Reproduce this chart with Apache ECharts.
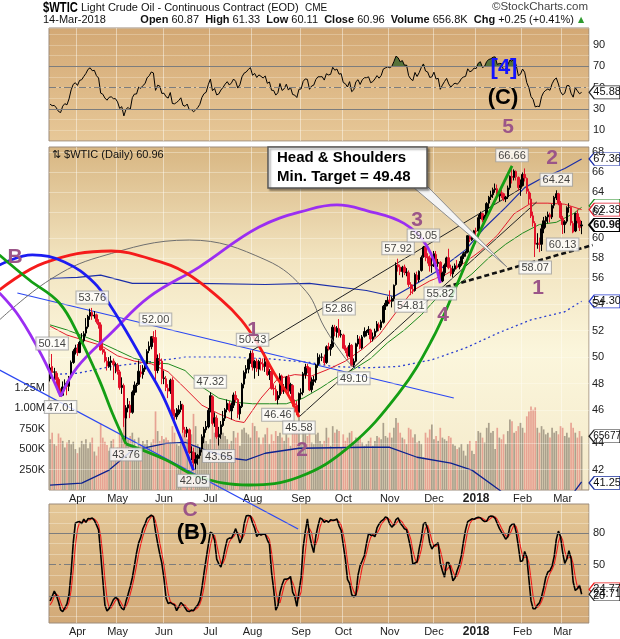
<!DOCTYPE html>
<html>
<head>
<meta charset="utf-8">
<title>$WTIC</title>
<style>
  html, body { margin: 0; padding: 0; background: #fff; }
  #main { width: 620px; height: 639px; }
</style>
<script src="https://cdn.jsdelivr.net/npm/echarts@6/dist/echarts.min.js"></script>
</head>
<body>
<div id="main"></div>
<script>
// trading days shown on the chart, by month
var tradingDays = [
  ['2017-03', [15,16,17,20,21,22,23,24,27,28,29,30,31]],
  ['2017-04', [3,4,5,6,7,10,11,12,13,17,18,19,20,21,24,25,26,27,28]],
  ['2017-05', [1,2,3,4,5,8,9,10,11,12,15,16,17,18,19,22,23,24,25,26,30,31]],
  ['2017-06', [1,2,5,6,7,8,9,12,13,14,15,16,19,20,21,22,23,26,27,28,29,30]],
  ['2017-07', [3,5,6,7,10,11,12,13,14,17,18,19,20,21,24,25,26,27,28,31]],
  ['2017-08', [1,2,3,4,7,8,9,10,11,14,15,16,17,18,21,22,23,24,25,28,29,30,31]],
  ['2017-09', [1,5,6,7,8,11,12,13,14,15,18,19,20,21,22,25,26,27,28,29]],
  ['2017-10', [2,3,4,5,6,9,10,11,12,13,16,17,18,19,20,23,24,25,26,27,30,31]],
  ['2017-11', [1,2,3,6,7,8,9,10,13,14,15,16,17,20,21,22,24,27,28,29,30]],
  ['2017-12', [1,4,5,6,7,8,11,12,13,14,15,18,19,20,21,22,26,27,28,29]],
  ['2018-01', [2,3,4,5,8,9,10,11,12,15,16,17,18,19,22,23,24,25,26,29,30,31]],
  ['2018-02', [1,2,5,6,7,8,9,12,13,14,15,16,20,21,22,23,26,27,28]],
  ['2018-03', [1,2,5,6,7,8,9,12,13,14]]
];

// 20 sessions before the window, only used to warm up RSI / stochastics
var warmHighs  = [53.62,53.60,53.68,53.56,54.33,54.20,54.94,54.40,54.38,54.30,54.28,53.70,53.50,53.74,53.48,53.20,50.65,49.72,48.90,48.33];
var warmLows   = [52.71,52.70,52.93,52.85,53.35,53.30,53.30,53.55,53.55,53.63,53.58,52.30,52.55,52.88,52.70,50.05,48.90,47.70,47.85,47.09];
var warmCloses = [53.20,53.11,53.36,53.40,54.06,53.59,54.45,53.99,54.05,54.01,53.83,52.61,53.33,53.20,53.14,50.28,49.28,48.49,48.40,47.72];

var opens = [
  48.30,49.20,48.80,48.70,48.25,47.35,47.10,47.70,47.90,47.75,48.40,49.50,50.30,
  50.55,50.25,51.05,51.15,51.75,52.25,53.10,53.40,53.10,53.20,52.60,52.40,50.50,50.30,49.60,49.20,49.50,49.60,49.30,
  49.30,48.80,47.65,47.80,45.50,46.20,46.40,45.90,47.30,47.80,47.90,48.80,48.60,49.00,49.40,50.40,50.70,51.40,51.40,48.90,49.70,49.60,
  48.30,48.30,47.60,47.40,48.20,45.70,45.60,45.80,46.10,46.40,44.70,44.50,44.70,43.20,43.20,42.50,42.80,43.00,43.40,44.20,44.70,44.90,
  46.10,47.00,45.20,45.50,44.20,44.40,45.00,45.50,46.10,46.50,46.00,46.40,47.10,46.80,45.80,46.30,47.90,48.70,49.00,49.70,
  50.20,49.10,49.60,49.00,49.50,49.40,49.20,49.50,48.60,48.80,47.60,47.50,46.80,47.10,48.50,47.40,47.60,48.40,47.40,47.80,46.50,46.40,45.90,
  47.20,47.30,48.60,49.20,49.10,47.50,48.10,48.20,49.30,49.90,49.90,49.90,49.50,50.70,50.50,50.70,52.20,51.80,52.10,51.60,
  51.60,50.60,50.40,50.00,50.80,49.30,49.60,50.90,51.30,50.60,51.50,51.80,51.90,52.00,51.30,51.50,51.90,52.40,52.20,52.60,53.90,54.10,
  54.40,54.30,54.50,55.70,57.40,57.20,56.80,57.20,56.70,56.70,55.70,55.30,55.20,56.50,56.10,56.90,58.10,58.90,58.10,58.00,57.30,
  57.40,58.30,57.50,57.60,56.00,56.70,57.40,58.00,57.10,56.60,57.00,57.30,57.20,57.50,58.10,58.40,58.50,59.90,59.60,59.80,
  60.40,60.40,61.60,62.00,61.40,61.70,63.00,63.60,63.80,64.30,64.40,63.70,64.00,63.90,63.40,63.60,64.50,65.60,65.50,66.10,65.50,64.50,
  64.70,65.80,65.40,64.10,63.40,61.80,61.10,59.20,59.30,59.20,60.60,61.30,61.70,61.90,61.70,62.80,63.50,63.90,63.00,
  61.60,61.00,61.30,62.60,62.60,61.10,60.40,62.00,61.40,60.87
];
var highs = [
  49.40,50.14,49.10,48.85,48.40,47.60,48.10,48.25,48.10,48.50,49.65,50.50,50.85,
  50.90,51.15,51.75,51.90,52.94,53.20,53.70,53.76,53.50,53.30,52.85,52.60,51.10,50.50,49.90,49.90,50.00,49.80,49.50,
  49.45,48.95,48.40,47.95,46.40,46.90,46.70,47.45,48.10,48.00,49.65,49.30,49.30,49.60,50.50,51.10,51.50,51.90,52.00,50.10,50.20,49.80,
  48.90,48.50,47.90,48.30,48.40,46.10,46.20,46.40,46.70,46.50,44.90,44.90,44.80,43.60,43.50,43.20,43.10,43.50,44.40,44.90,45.30,46.20,
  47.32,47.10,45.90,45.70,44.90,45.30,46.00,46.20,46.80,46.70,46.60,47.30,47.40,46.90,46.50,48.00,48.90,49.30,49.80,50.40,
  50.43,49.70,49.80,49.70,49.80,49.80,50.20,49.70,49.00,48.90,47.90,47.80,47.40,48.70,48.60,47.90,48.50,48.60,48.00,47.90,46.80,46.70,47.30,
  47.60,48.80,49.40,49.40,49.10,48.40,48.50,49.40,50.20,50.10,50.20,50.10,50.80,51.00,50.90,52.40,52.40,52.30,52.86,52.00,
  51.70,50.80,50.70,51.00,50.90,49.80,51.00,51.60,51.50,51.60,52.20,52.00,52.30,52.10,51.80,52.10,52.70,52.60,52.80,54.00,54.40,54.70,
  55.20,54.70,55.70,57.60,57.92,57.40,57.30,57.40,57.10,56.90,55.90,55.70,56.70,56.80,56.90,58.20,59.05,59.00,58.40,58.20,58.00,
  58.60,58.60,57.90,57.70,56.80,57.50,58.10,58.80,57.40,57.30,57.50,57.80,57.70,58.20,58.50,58.60,60.00,60.10,60.00,60.50,
  60.70,61.90,62.20,62.10,61.90,63.10,63.70,64.20,64.50,64.90,64.80,64.20,64.30,64.00,63.70,64.70,65.70,66.66,66.30,66.20,65.60,65.30,
  66.00,66.40,65.50,64.40,64.00,62.20,61.30,60.20,59.80,61.00,61.70,61.80,62.20,62.10,62.90,63.70,64.24,64.00,63.20,
  61.80,61.40,62.70,63.00,62.70,61.30,62.10,62.40,61.70,61.33
];
var lows = [
  48.10,48.60,48.20,47.80,47.30,47.01,47.05,47.40,47.10,47.40,48.30,49.40,50.10,
  50.00,50.20,50.90,51.00,51.50,52.10,52.80,52.80,52.90,52.50,52.10,50.40,50.10,49.50,48.90,49.10,48.90,48.20,48.70,
  48.60,47.50,47.20,44.90,43.76,45.90,45.50,45.80,47.10,47.30,47.85,48.40,48.30,48.80,49.30,50.20,50.50,51.00,48.20,48.70,49.30,47.90,
  47.90,47.40,46.90,47.20,45.60,45.20,45.40,45.70,45.90,44.50,44.20,44.20,43.10,42.70,42.05,42.10,42.40,42.80,43.20,43.80,44.50,44.80,
  45.90,45.00,44.90,44.10,43.65,44.10,44.90,45.30,45.90,45.90,45.40,46.20,46.60,45.50,45.40,46.20,47.60,48.30,48.70,49.40,
  48.90,48.30,48.80,48.50,48.90,48.90,48.80,48.50,48.20,47.50,47.10,46.70,46.46,46.90,47.20,47.20,47.50,47.20,47.20,46.30,45.90,45.70,45.58,
  46.80,47.10,48.30,48.70,47.40,47.30,47.80,48.00,49.10,49.40,49.60,49.30,49.40,50.40,50.00,50.60,51.50,51.40,51.40,51.40,
  50.50,50.20,49.80,49.90,49.20,49.10,49.50,50.70,50.50,50.50,51.40,51.50,51.60,51.00,51.10,51.40,51.80,51.90,52.00,52.50,53.60,53.90,
  54.10,53.80,54.30,55.60,56.80,56.50,56.30,56.50,56.40,55.50,54.81,54.90,55.10,55.80,55.90,56.80,58.00,57.70,57.50,56.80,56.70,
  57.20,57.40,57.20,55.82,55.90,56.40,57.20,57.00,56.40,56.30,56.80,57.00,57.00,57.30,57.90,58.10,58.40,59.40,59.50,59.70,
  59.90,60.20,61.50,61.20,61.10,61.60,62.50,63.30,63.50,64.00,63.30,63.20,63.50,63.20,63.10,63.40,64.30,64.90,65.20,65.20,64.20,63.70,
  64.60,65.10,63.90,62.90,61.60,60.80,58.07,58.80,58.50,58.60,60.20,60.70,61.10,61.20,61.50,62.50,63.30,62.80,61.50,
  60.13,60.20,61.10,62.10,60.90,60.20,60.30,61.10,60.40,60.11
];
var closes = [
  49.10,48.75,48.78,48.22,47.34,47.04,47.70,47.97,47.73,48.37,49.51,50.35,50.60,
  50.24,51.03,51.15,51.70,52.24,53.08,53.40,53.11,53.18,52.65,52.41,50.44,50.27,49.62,49.23,49.56,49.62,49.33,49.33,
  48.84,47.66,47.82,45.52,46.22,46.43,45.88,47.33,47.83,47.84,48.85,48.66,49.07,49.35,50.33,50.73,51.47,51.36,48.90,49.80,49.66,48.32,
  48.36,47.66,47.40,48.19,45.72,45.64,45.83,46.08,46.46,44.73,44.46,44.74,43.20,43.23,42.53,42.74,43.01,43.38,44.24,44.74,44.93,46.04,
  47.07,45.13,45.52,44.23,44.40,45.04,45.49,46.08,46.54,46.02,46.40,47.12,46.79,45.77,46.34,47.89,48.75,49.04,49.71,50.17,
  49.16,49.59,49.03,49.58,49.39,49.17,49.56,48.59,48.82,47.59,47.55,46.78,47.09,48.51,47.37,47.64,48.41,47.43,47.87,46.57,46.44,45.96,47.23,
  47.29,48.66,49.16,49.09,47.48,48.07,48.23,49.30,49.89,49.89,49.91,49.48,50.69,50.55,50.66,52.22,51.88,52.14,51.56,51.67,
  50.58,50.42,49.98,50.79,49.29,49.58,50.92,51.30,50.60,51.45,51.87,51.88,52.04,51.29,51.47,51.90,52.47,52.18,52.64,53.90,54.15,54.38,
  54.30,54.54,55.64,57.35,57.20,56.81,57.17,56.74,56.76,55.70,55.33,55.14,56.55,56.09,56.83,58.02,58.95,58.11,57.99,57.30,57.40,
  58.36,57.47,57.62,55.96,56.69,57.36,57.99,57.14,56.60,57.04,57.30,57.16,57.46,58.09,58.36,58.47,59.97,59.64,59.84,60.42,
  60.37,61.63,62.01,61.44,61.73,62.96,63.57,63.80,64.30,64.40,63.73,63.97,63.95,63.37,63.57,64.47,65.61,65.51,66.14,65.56,64.50,64.73,
  65.80,65.45,64.15,63.39,61.79,61.15,59.20,59.29,59.19,60.60,61.34,61.68,61.90,61.68,62.77,63.55,63.91,63.01,61.64,
  60.99,61.25,62.57,62.60,61.15,60.30,62.04,61.36,60.71,60.96
];
// volume in thousands
var volumes = [
  620,700,560,540,690,640,600,520,580,610,560,590,500,
  450,520,600,560,620,510,580,640,470,420,530,810,640,590,550,480,600,620,470,
  520,700,640,930,900,620,660,700,620,520,640,560,600,560,610,520,580,620,960,720,600,660,
  620,640,610,580,780,700,560,540,600,760,700,620,720,680,930,780,560,500,640,690,600,560,
  620,800,700,760,620,680,700,660,620,560,600,720,640,700,540,740,760,700,680,640,
  820,780,720,640,560,640,680,760,560,680,600,720,660,700,640,600,680,640,540,700,720,740,900,
  560,740,700,660,720,580,560,680,700,600,560,600,760,640,540,780,700,740,720,520,
  680,600,640,700,720,560,640,620,660,580,540,560,600,640,540,600,660,640,620,820,660,640,
  700,640,760,880,820,700,640,620,560,760,740,640,680,580,600,560,400,700,640,740,800,
  620,660,600,760,640,620,600,660,640,560,540,500,520,560,480,420,560,600,480,440,
  600,720,700,640,580,760,820,700,720,500,760,640,620,680,560,720,860,840,700,720,780,820,
  760,700,900,960,1020,980,1010,760,700,780,740,680,700,640,760,700,720,680,780,
  760,660,700,640,820,760,700,640,720,657
];

// overlays: [session index, price]
var sma20 = [[0,52.3],[8,51.6],[16,51.2],[24,50.8],[32,50.0],[40,49.6],[48,49.4],[56,48.8],[64,47.6],[72,46.4],[80,45.8],[88,45.3],[92,45.2],[100,46.9],[108,48.3],[116,48.6],[124,48.5],[132,49.0],[140,49.6],[148,50.5],[156,51.6],[164,53.4],[172,55.2],[180,56.0],[188,56.6],[196,57.5],[204,58.6],[212,60.0],[220,62.0],[228,63.0],[236,63.0],[244,62.9],[252,62.39]];
var sma50 = [[0,52.4],[8,52.0],[16,51.5],[24,51.0],[32,50.4],[40,49.8],[48,49.5],[56,49.4],[64,48.9],[72,47.7],[80,46.9],[88,46.6],[96,46.5],[104,46.5],[112,46.5],[120,46.9],[128,47.6],[136,48.4],[144,49.0],[152,49.8],[160,51.0],[168,52.0],[176,53.2],[184,54.7],[192,55.5],[200,56.6],[208,58.0],[216,59.2],[224,60.2],[232,61.0],[240,61.2],[248,62.0],[252,62.6]];
var navyAvg = [[0,56.2],[13,56.3],[24,56.5],[39,55.8],[70,55.8],[102,55.7],[123,55.8],[150,55.2],[163,54.7],[172,55.6],[184,56.9],[197,58.7],[206,60.7],[216,62.6],[225,64.5],[232,65.3],[244,66.4],[252,67.36]];
var sma200 = [[0,48.6],[13,48.7],[29,49.2],[45,49.5],[64,49.9],[86,49.9],[102,49.8],[123,49.5],[134,49.2],[150,49.1],[165,49.2],[181,49.7],[197,50.6],[213,51.8],[228,52.8],[244,53.45],[252,54.30]];
var volumeAvg = [[0,60],[15,85],[28,243],[39,485],[55,570],[64,583],[74,485],[86,388],[93,364],[102,449],[118,510],[150,522],[161,522],[174,400],[190,328],[200,243],[213,0],[220,-150],[240,-150],[248,-40],[252,100]];

// hand-drawn cycle arcs and trend lines: [session index, price]
var arcGreenLeft = [[-24,58.25],[-9.8,56.08],[4.4,54.16],[13.9,51.44],[23.3,48.21],[29.5,45.86],[36,43.76]];
var arcGreenBowl = [[36,43.76],[55,42.71],[70.7,41.62],[94.3,41.12],[118,41.62],[141.7,43.56],[165.4,47.27],[181,51.21],[192.4,55.49],[201.9,59.58],[209.4,62.64],[219,66.66]];
var arcBlue = [[-24,57.37],[-8.4,58.25],[6.8,57.63],[21,55.83],[29,53.84],[36.6,51.76],[44.7,49.47],[52.8,47.27],[60.4,44.69],[68,42.05]];
var arcRed = [[-24,55.24],[-2.7,57.55],[29,58.6],[49.4,57.8],[64.5,56.68],[81.2,54.42],[90.6,52.79],[98.2,50.98],[106.2,48.72],[114.3,46.77],[118,45.58]];
var arcPurpleLeft = [[-24,54.99],[-14.5,53.03],[-3.6,49.92],[5,47.01]];
var arcPurple = [[5,47.01],[13,49.17],[29,51.76],[47,54.66],[70.7,57.19],[99.1,60.76],[122.8,62.4],[136,62.83],[150,62.3],[167.8,61.1],[178.9,58.96],[185,55.82]];
var arcGray = [[-24,52.79],[-0.3,56.08],[23.3,58.07],[66,59.58],[102.4,57.8],[121.5,55.1],[130,52.23],[139.5,49.92],[144,49.10]];
var trendBlueUpper = [[-15.5,54.99],[191.4,46.91]];
var trendBlueLower = [[-24,48.94],[117.6,38.47]];
var channelUpper = [[96,50.43],[223.7,64.46]];
var channelLower = [[118,45.58],[230.7,63.11]];
var neckline = [[184,55.3],[257.2,59.13]];

// swing labels
var pivotDays   = [1,5,20,36,50,68,76,80,96,108,118,137,144,165,171,177,185,219,230,240,243];
var pivotPrices = [50.14,47.01,53.76,43.76,52.00,42.05,47.32,43.65,50.43,46.46,45.58,52.86,49.10,57.92,54.81,59.05,55.82,66.66,58.07,64.24,60.13];
var pivotSides  = ['top','bottom','top','bottom','top','bottom','top','bottom','top','bottom','bottom','top','bottom','top','bottom','top','bottom','top','bottom','top','bottom'];

var priceTicks = [42,44,46,48,50,52,54,56,58,60,62,64,66,68];
var monthNames = ['Jan','Feb','Mar','Apr','May','Jun','Jul','Aug','Sep','Oct','Nov','Dec'];

// ---------------------------------------------------------------
var dates = [];
tradingDays.forEach(function (m) {
  m[1].forEach(function (d) { dates.push(m[0] + '-' + (d < 10 ? '0' + d : d)); });
});
var categories = dates.concat(['', '', '']);
var last = dates.length - 1;

var monthStart = {};
for (var i = 1; i < dates.length; i++) {
  if (dates[i].slice(0, 7) !== dates[i - 1].slice(0, 7)) monthStart[i] = true;
}
function isMonthStart(index) { return monthStart[index] === true; }

var UP = '#000000', DOWN = '#e3132b';
var candles = [], volBars = [];
for (var i = 0; i < dates.length; i++) {
  var prev = i === 0 ? warmCloses[warmCloses.length - 1] : closes[i - 1];
  var c = closes[i] >= prev ? UP : DOWN;
  candles.push({
    value: [Math.log(opens[i]), Math.log(closes[i]), Math.log(lows[i]), Math.log(highs[i])],
    itemStyle: { color: c, color0: c, borderColor: c, borderColor0: c }
  });
  volBars.push({
    value: volumes[i],
    itemStyle: { color: c === UP ? '#aaa08c' : '#e7a393' }
  });
}

// RSI(14), Wilder smoothing
var allC = warmCloses.concat(closes);
var allH = warmHighs.concat(highs);
var allL = warmLows.concat(lows);
var rsiAll = [], g = 0, l = 0, n = 14;
for (var i = 1; i < allC.length; i++) {
  var ch = allC[i] - allC[i - 1];
  var up = ch > 0 ? ch : 0, dn = ch < 0 ? -ch : 0;
  if (i <= n) {
    g += up; l += dn;
    if (i === n) { g /= n; l /= n; rsiAll[i] = 100 - 100 / (1 + g / l); }
  } else {
    g = (g * (n - 1) + up) / n; l = (l * (n - 1) + dn) / n;
    rsiAll[i] = 100 - 100 / (1 + g / l);
  }
}
var rsi = rsiAll.slice(warmCloses.length);

// slow stochastics (14,3)
var fastK = [], slowK = [], slowD = [];
for (var i = 13; i < allC.length; i++) {
  var hh = -1e9, ll = 1e9;
  for (var j = i - 13; j <= i; j++) { hh = Math.max(hh, allH[j]); ll = Math.min(ll, allL[j]); }
  fastK[i] = (allC[i] - ll) / (hh - ll) * 100;
  if (i >= 15) slowK[i] = (fastK[i] + fastK[i - 1] + fastK[i - 2]) / 3;
  if (i >= 17) slowD[i] = (slowK[i] + slowK[i - 1] + slowK[i - 2]) / 3;
}
var stochK = slowK.slice(warmCloses.length);
var stochD = slowD.slice(warmCloses.length);

// layout of the panels
var PANEL_LEFT = 49, PANEL_W = 540, CHART_W = 620;
var band = PANEL_W / categories.length;
// the drawing layer spans the full width so annotations can run past the panel edge
var drawMin = -0.5 - PANEL_LEFT / band;
var drawMax = -0.5 + (CHART_W - PANEL_LEFT) / band;
var lnMin = Math.log(40.81), lnMax = Math.log(68.59);

function lnPts(arr) { return arr.map(function (d) { return [d[0], Math.log(d[1])]; }); }

function tag(x, y, text, color, bold, size) {
  return {
    coord: [x, y],
    symbol: 'path://M0,6L6,0L36,0L36,12L6,12Z',
    symbolSize: [31, 13],
    symbolOffset: [23, 0],
    itemStyle: { color: '#fff', borderColor: color, borderWidth: bold ? 1.6 : 1 },
    label: {
      show: true, position: 'inside', formatter: text, offset: [2.5, 0],
      color: '#111', fontSize: size || 11, fontWeight: bold ? 'bold' : 'normal',
      fontFamily: 'Liberation Sans'
    }
  };
}

function overlay(name, data, color, width, extra) {
  var s = {
    name: name, type: 'line', xAxisIndex: 3, yAxisIndex: 4,
    data: lnPts(data), symbol: 'none', clip: false, silent: true,
    lineStyle: { color: color, width: width }, z: 3
  };
  for (var k in extra) s[k] = extra[k];
  return s;
}

var MAUVE = '#9b5588';
var FONT = 'Liberation Sans';
var gridLine = 'rgba(255,255,250,0.45)';

var priceLines = priceTicks.map(function (v) {
  return { yAxis: Math.log(v), label: { formatter: String(v) } };
});

var stochLines = [];
for (var v = 0; v <= 100; v += 10) {
  if (v === 20 || v === 50 || v === 80) continue;
  stochLines.push({ yAxis: v, lineStyle: { color: 'rgba(255,255,245,0.3)', type: 'solid', width: 1 }, label: { show: false } });
}
stochLines.push({ yAxis: 80, lineStyle: { color: '#7d7d7d', type: 'solid', width: 1 }, label: { show: true, formatter: '80' } });
stochLines.push({ yAxis: 20, lineStyle: { color: '#7d7d7d', type: 'solid', width: 1 }, label: { show: true, formatter: '20' } });
stochLines.push({ yAxis: 50, lineStyle: { color: '#7d7d7d', type: [7, 3, 2, 3], width: 1 }, label: { show: true, formatter: '50' } });

var pivotData = pivotDays.map(function (d, k) {
  return { value: [d, Math.log(pivotPrices[k])], label: { position: pivotSides[k] } };
});

var chart = echarts.init(document.getElementById('main'));

var xLabel = {
  show: true, interval: isMonthStart, margin: 3, fontSize: 11, color: '#222', fontFamily: FONT,
  formatter: function (value) {
    if (!value) return '';
    var m = +value.slice(5, 7);
    return m === 1 ? '{b|' + value.slice(0, 4) + '}' : monthNames[m - 1];
  },
  rich: { b: { fontWeight: 'bold', fontSize: 12, fontFamily: FONT } }
};
var xSplit = { show: true, interval: isMonthStart, lineStyle: { color: gridLine, width: 1 } };

function wave(x, y, text, color, size) {
  return { type: 'text', x: x, y: y, z: 100, style: {
    text: text, font: 'bold ' + (size || 21) + 'px ' + FONT, fill: color || MAUVE,
    align: 'center', verticalAlign: 'middle' } };
}

var option = {
  animation: false,
  backgroundColor: '#ffffff',
  grid: [
    { left: PANEL_LEFT, width: PANEL_W, top: 28, height: 113, show: true, borderColor: '#9c8b7a', borderWidth: 1,
      backgroundColor: { type: 'linear', x: 0, y: 0, x2: 0, y2: 1, colorStops: [
        { offset: 0, color: '#d3a874' }, { offset: 1, color: '#e7c898' }] } },
    { left: PANEL_LEFT, width: PANEL_W, top: 147, height: 343, show: true, borderColor: '#9c8b7a', borderWidth: 1,
      backgroundColor: { type: 'linear', x: 0, y: 0, x2: 0, y2: 1, colorStops: [
        { offset: 0, color: '#d8b682' }, { offset: 0.33, color: '#f2e4c0' },
        { offset: 0.6, color: '#fbf6dc' }, { offset: 1, color: '#f4e9c9' }] } },
    { left: PANEL_LEFT, width: PANEL_W, top: 504, height: 119, show: true, borderColor: '#9c8b7a', borderWidth: 1,
      backgroundColor: { type: 'linear', x: 0, y: 0, x2: 0, y2: 1, colorStops: [
        { offset: 0, color: '#e4c797' }, { offset: 1, color: '#d2a977' }] } },
    { left: 0, width: CHART_W, top: 147, height: 343, show: false }
  ],
  xAxis: [
    { type: 'category', gridIndex: 0, data: categories, axisLabel: { show: false },
      axisTick: { show: false }, axisLine: { show: false }, splitLine: xSplit },
    { type: 'category', gridIndex: 1, data: categories, axisLabel: xLabel,
      axisTick: { show: false }, axisLine: { show: false }, splitLine: xSplit },
    { type: 'category', gridIndex: 2, data: categories, axisLabel: xLabel,
      axisTick: { show: false }, axisLine: { show: false }, splitLine: xSplit },
    { type: 'value', gridIndex: 3, min: drawMin, max: drawMax, show: false }
  ],
  yAxis: [
    { type: 'value', gridIndex: 0, min: 0, max: 106, interval: 10, position: 'right',
      axisLine: { show: false }, axisTick: { show: false },
      axisLabel: { margin: 4, fontSize: 11, color: '#222', fontFamily: FONT,
        formatter: function (v) { return (v === 10 || v === 30 || v === 50 || v === 70 || v === 90) ? String(v) : ''; } },
      splitLine: { lineStyle: { color: 'rgba(255,255,245,0.25)' } } },
    { type: 'value', gridIndex: 1, min: lnMin, max: lnMax, show: false },
    { type: 'value', gridIndex: 1, min: 0, max: 4190, interval: 250, position: 'left',
      axisLine: { show: false }, axisTick: { show: false }, splitLine: { show: false },
      axisLabel: { margin: 4, fontSize: 11, color: '#222', fontFamily: FONT,
        formatter: function (v) {
          if (v <= 0 || v > 1250) return '';
          return v >= 1000 ? (v / 1000).toFixed(2) + 'M' : v + 'K';
        } } },
    { type: 'value', gridIndex: 2, min: -6, max: 108, show: false },
    { type: 'value', gridIndex: 3, min: lnMin, max: lnMax, show: false },
    { type: 'value', gridIndex: 3, min: 0, max: 4190, show: false }
  ],
  series: [
    // RSI panel
    { type: 'line', xAxisIndex: 0, yAxisIndex: 0, stack: 'rsi', silent: true, symbol: 'none',
      data: rsi.map(function () { return 70; }), lineStyle: { opacity: 0 } },
    { type: 'line', xAxisIndex: 0, yAxisIndex: 0, stack: 'rsi', silent: true, symbol: 'none',
      data: rsi.map(function (v) { return Math.max(v - 70, 0); }),
      lineStyle: { opacity: 0 }, areaStyle: { color: '#56723a', opacity: 1 } },
    { name: 'RSI', type: 'line', xAxisIndex: 0, yAxisIndex: 0, data: rsi, symbol: 'none', silent: true,
      lineStyle: { color: '#000', width: 1 }, z: 4,
      markLine: { silent: true, symbol: 'none', label: { show: false },
        data: [
          { yAxis: 70, lineStyle: { color: '#7d7d7d', type: 'solid', width: 1 } },
          { yAxis: 30, lineStyle: { color: '#7d7d7d', type: 'solid', width: 1 } },
          { yAxis: 50, lineStyle: { color: '#7d7d7d', type: [7, 3, 2, 3], width: 1 } }
        ] },
      markPoint: { silent: true, data: [tag(last, rsi[last], '45.88', '#222', false)] } },

    // volume
    { name: 'Volume', type: 'bar', xAxisIndex: 1, yAxisIndex: 2, data: volBars, barWidth: 1.7, silent: true, z: 1,
      markPoint: { silent: true, data: [tag(last, volumes[last], '65677', '#222', false, 10)] } },
    { name: 'VolAvg', type: 'line', xAxisIndex: 3, yAxisIndex: 5, data: volumeAvg, symbol: 'none',
      clip: true, silent: true, lineStyle: { color: '#0d2290', width: 1.3 }, z: 3 },

    // moving averages
    overlay('SMA200', sma200, '#2a3fd0', 1.3, { lineStyle: { color: '#2a3fd0', width: 1.3, type: [2, 3] },
      markPoint: { silent: true, data: [tag(last, Math.log(54.30), '54.30', '#2a3fd0', false)] } }),
    overlay('Avg', navyAvg, '#1b2ea8', 1.2, {
      markPoint: { silent: true, data: [
        tag(last, Math.log(67.36), '67.36', '#1b2ea8', false),
        tag(last, Math.log(41.25), '41.25', '#1a2f9c', false)] } }),
    overlay('SMA50', sma50, '#1f8a1f', 1, {
      markPoint: { silent: true, data: [tag(last, Math.log(62.75), '', '#1f8a1f', false)] } }),
    overlay('SMA20', sma20, '#e21c2c', 1, {
      markPoint: { silent: true, data: [tag(last, Math.log(62.39), '62.39', '#e21c2c', false)] } }),

    // trend lines
    overlay('blueUpper', trendBlueUpper, '#2b47f2', 1.2),
    overlay('blueLower', trendBlueLower, '#2b47f2', 1.2),
    overlay('chUpper', channelUpper, '#222', 1),
    overlay('chLower', channelLower, '#222', 1),

    // price
    { name: '$WTIC', type: 'candlestick', xAxisIndex: 1, yAxisIndex: 1, data: candles, barWidth: 2, silent: true, z: 5,
      markLine: { silent: true, symbol: 'none',
        lineStyle: { color: 'rgba(255,255,245,0.35)', type: 'solid', width: 1 },
        label: { show: true, position: 'end', distance: 3, color: '#222', fontSize: 11, fontFamily: FONT },
        data: priceLines },
      markPoint: { silent: true, data: [tag(last, Math.log(closes[last]), '60.96', '#000', true)] } },

    overlay('neckline', neckline, '#111', 2.6, { lineStyle: { color: '#111', width: 2.6, type: [5, 3] }, z: 6 }),

    // cycle arcs
    overlay('grayArc', arcGray, '#6f6f6f', 1, { smooth: 0.4, z: 6 }),
    overlay('purpleLeft', arcPurpleLeft, '#9b2ef2', 2.8, { smooth: 0.4, z: 7 }),
    overlay('purpleArc', arcPurple, '#9b2ef2', 2.8, { smooth: 0.4, z: 7 }),
    overlay('redArc', arcRed, '#f51b1b', 2.8, { smooth: 0.4, z: 7 }),
    overlay('blueArc', arcBlue, '#1c1cf2', 2.8, { smooth: 0.4, z: 7 }),
    overlay('greenLeft', arcGreenLeft, '#149e14', 2.8, { smooth: 0.4, z: 7 }),
    overlay('greenBowl', arcGreenBowl, '#149e14', 2.8, { smooth: 0.4, z: 7 }),

    // swing labels
    { type: 'scatter', xAxisIndex: 3, yAxisIndex: 4, data: pivotData, symbolSize: 1, silent: true, z: 8,
      itemStyle: { color: 'rgba(0,0,0,0)' },
      label: { show: true, distance: 4, fontSize: 11, color: '#111', fontFamily: FONT,
        backgroundColor: '#fff', borderColor: '#a0a0a0', borderWidth: 1, padding: [1, 2, 0, 2],
        formatter: function (p) { return Math.exp(p.value[1]).toFixed(2); } } },

    // stochastics
    { name: '%D', type: 'line', xAxisIndex: 2, yAxisIndex: 3, data: stochD, symbol: 'none', silent: true,
      lineStyle: { color: '#ee1c1c', width: 1.1 },
      markLine: { silent: true, symbol: 'none',
        label: { position: 'end', distance: 4, color: '#222', fontSize: 11, fontFamily: FONT },
        data: stochLines },
      markPoint: { silent: true, data: [tag(last, stochD[last], '24.77', '#ee1c1c', false)] } },
    { name: '%K', type: 'line', xAxisIndex: 2, yAxisIndex: 3, data: stochK, symbol: 'none', silent: true,
      lineStyle: { color: '#000', width: 1.6 }, z: 4,
      markPoint: { silent: true, data: [tag(last, stochK[last], '24.71', '#222', false)] } }
  ],
  graphic: [
    { type: 'text', x: 43, y: 8, z: 100, scaleX: 0.8,
      style: { text: '$WTIC', font: 'bold 14px ' + FONT, fill: '#000', verticalAlign: 'middle' } },
    { type: 'text', x: 81, y: 8, z: 100, style: { text: 'Light Crude Oil - Continuous Contract (EOD)', font: '11px ' + FONT, fill: '#111', verticalAlign: 'middle' } },
    { type: 'text', x: 305, y: 8, z: 100, style: { text: 'CME', font: '10px ' + FONT, fill: '#111', verticalAlign: 'middle' } },
    { type: 'text', x: 588, y: 7, z: 100, style: { text: '\u00a9StockCharts.com', font: '11.5px ' + FONT, fill: '#444', align: 'right', verticalAlign: 'middle' } },
    { type: 'text', x: 43, y: 20, z: 100, style: { text: '14-Mar-2018', font: '11px ' + FONT, fill: '#111', verticalAlign: 'middle' } },
    { type: 'text', x: 574, y: 20, z: 100, style: {
      text: '{b|Open} 60.87  {b|High} 61.33  {b|Low} 60.11  {b|Close} 60.96  {b|Volume} 656.8K  {b|Chg} +0.25 (+0.41%)',
      font: '11px ' + FONT, fill: '#111', align: 'right', verticalAlign: 'middle',
      rich: { b: { fontWeight: 'bold', fontSize: 11, fontFamily: FONT } } } },
    { type: 'text', x: 578, y: 20, z: 100, style: { text: '\u25B2', font: '8px DejaVu Sans', fill: '#2f9a2f', verticalAlign: 'middle' } },

    { type: 'text', x: 52, y: 155, z: 100, style: { text: '\u21C5 $WTIC (Daily) 60.96', font: '11px ' + FONT, fill: '#111', verticalAlign: 'middle' } },

    // head & shoulders note
    { type: 'polygon', z: 99, shape: { points: [[413, 187], [428, 187], [507, 267]] },
      style: { fill: '#f4f4f4', stroke: '#8c8c8c', lineWidth: 1 } },
    { type: 'rect', z: 100, shape: { x: 268, y: 147, width: 159, height: 41 },
      style: { fill: '#fff', stroke: '#555', lineWidth: 1.5, shadowColor: 'rgba(0,0,0,0.35)', shadowOffsetX: 2, shadowOffsetY: 2, shadowBlur: 2 } },
    { type: 'text', x: 277, y: 158, z: 101, style: { text: 'Head & Shoulders', font: 'bold 15px ' + FONT, fill: '#000', verticalAlign: 'middle' } },
    { type: 'text', x: 277, y: 177, z: 101, style: { text: 'Min. Target = 49.48', font: 'bold 15px ' + FONT, fill: '#000', verticalAlign: 'middle' } },

    // wave counts
    wave(15, 257, 'B'), wave(253, 330, '1'), wave(302, 450, '2'), wave(417, 220, '3'),
    wave(443, 315, '4'), wave(508, 127, '5'), wave(552, 158, '2'), wave(538, 288, '1'),
    wave(190, 510, 'C'),
    wave(504, 68, '[4]', '#1414ff', 22), wave(503, 98, '(C)', '#000', 22), wave(192, 533, '(B)', '#000', 22)
  ]
};

chart.setOption(option);
</script>
</body>
</html>
